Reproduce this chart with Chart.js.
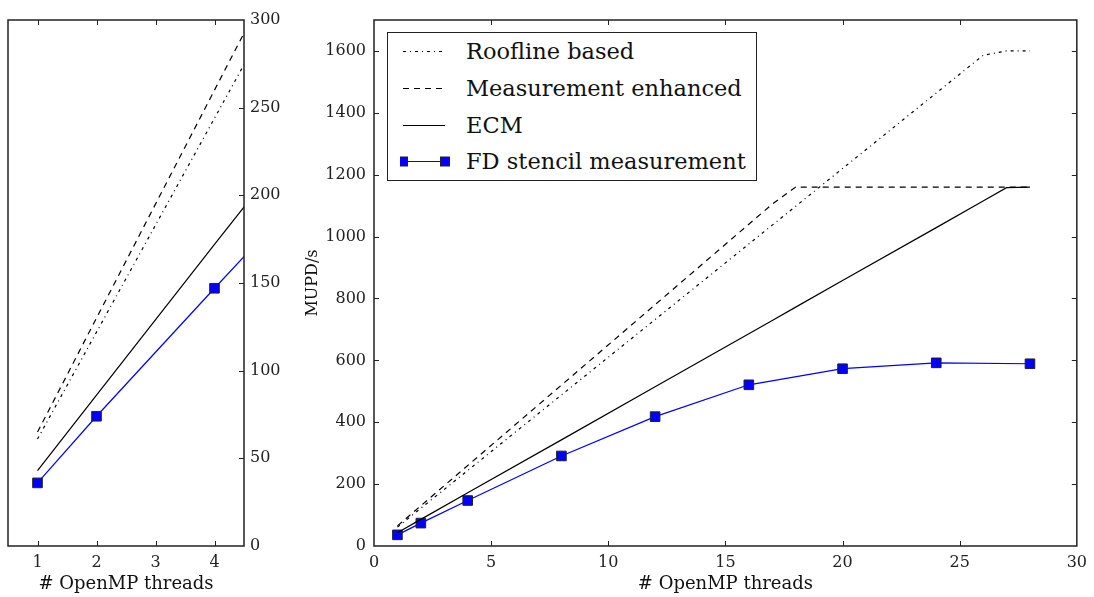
<!DOCTYPE html>
<html>
<head>
<meta charset="utf-8">
<script src="https://cdn.jsdelivr.net/npm/chart.js@4.4.1/dist/chart.umd.min.js"></script>
<style>
  html, body { margin: 0; padding: 0; background: #fff; }
  #wrap { position: relative; width: 1094px; height: 597px; overflow: hidden; }
  canvas { position: absolute; top: 0; }
  #legend { position: absolute; left: 387px; top: 32px; width: 368px; height: 147px;
    border: 1.5px solid #222; background: #fff; font-family: 'DejaVu Serif', serif; font-size: 22.5px; color: #111; }
  .row { position: absolute; left: 0; height: 30px; width: 100%; }
  .row svg { position: absolute; left: 12px; top: 0; }
  .row span { position: absolute; left: 78px; top: 0; line-height: 30px; white-space: nowrap; }
</style>
</head>
<body>
<div id="wrap">
  <canvas id="leftChart" width="300" height="597" style="left:0px"></canvas>
  <canvas id="rightChart" width="804" height="597" style="left:290px"></canvas>
  <div id="legend"></div>
</div>
<script>
// ---- data ----
const threads = [1, 2, 4, 8, 12, 16, 20, 24, 28];
const fdStencil = [36, 74, 147, 291, 418, 521, 573, 592, 589];
const modelThreads = [1, 2, 4, 8, 12, 16, 17, 18, 20, 24, 26, 27, 28];
const roofline = [61, 122, 244, 488, 732, 976, 1037, 1098, 1220, 1464, 1586, 1600, 1600];
const measEnhanced = [65, 130, 260, 520, 780, 1040, 1105, 1160, 1160, 1160, 1160, 1160, 1160];
const ecm = [43, 86, 172, 343, 515, 686, 729, 772, 858, 1029, 1115, 1158, 1160];
const seriesLabels = ['Roofline based', 'Measurement enhanced', 'ECM', 'FD stencil measurement'];
const leftXTicks = [1, 2, 3, 4];
const leftYTicks = [0, 50, 100, 150, 200, 250, 300];
const rightXTicks = [0, 5, 10, 15, 20, 25, 30];
const rightYTicks = [0, 200, 400, 600, 800, 1000, 1200, 1400, 1600];
const xTitle = '# OpenMP threads';
const yTitle = 'MUPD/s';

const pairs = (xs, ys) => xs.map((x, i) => ({x: x, y: ys[i]}));

function makeDatasets() {
  return [
    { label: seriesLabels[0], data: pairs(modelThreads, roofline), borderColor: '#000', borderWidth: 1.2,
      borderDash: [3, 4, 1, 4], pointRadius: 0, fill: false },
    { label: seriesLabels[1], data: pairs(modelThreads, measEnhanced), borderColor: '#000', borderWidth: 1.2,
      borderDash: [6, 5], pointRadius: 0, fill: false },
    { label: seriesLabels[2], data: pairs(modelThreads, ecm), borderColor: '#000', borderWidth: 1.2,
      pointRadius: 0, fill: false },
    { label: seriesLabels[3], data: pairs(threads, fdStencil), borderColor: '#0000ff', borderWidth: 1.2,
      pointStyle: 'rect', pointRadius: 6.8, pointBackgroundColor: '#0000ff', pointBorderColor: '#222',
      pointBorderWidth: 1, fill: false }
  ];
}

const frame = {
  id: 'frame',
  afterDraw(chart, args, opts) {
    const {ctx, chartArea: a, scales} = chart;
    ctx.save();
    ctx.strokeStyle = '#222';
    ctx.lineWidth = 1;
    const L = 5;
    ctx.beginPath();
    scales.x.ticks.forEach(t => {
      const px = Math.round(scales.x.getPixelForValue(t.value)) + 0.5;
      if (px < a.left + 1 || px > a.right - 1) return;
      ctx.moveTo(px, a.bottom); ctx.lineTo(px, a.bottom - L);
      ctx.moveTo(px, a.top); ctx.lineTo(px, a.top + L);
    });
    scales.y.ticks.forEach(t => {
      const py = Math.round(scales.y.getPixelForValue(t.value)) + 0.5;
      if (py < a.top + 1 || py > a.bottom - 1) return;
      if (opts.leftTicks) { ctx.moveTo(a.left, py); ctx.lineTo(a.left + L, py); }
      if (opts.rightTicks) { ctx.moveTo(a.right, py); ctx.lineTo(a.right - L, py); }
    });
    ctx.stroke();
    ctx.lineWidth = 1.5;
    ctx.strokeRect(a.left, a.top, a.right - a.left, a.bottom - a.top);
    ctx.restore();
  }
};

const tickFont = { family: "'DejaVu Serif', serif", size: 16 };
const titleFont = { family: "'DejaVu Serif', serif", size: 18 };
const plainLabel = v => String(v);

function setTicks(list) {
  return function(scale) { scale.ticks = list.map(v => ({value: v})); };
}

// ---- left (zoomed) chart ----
new Chart(document.getElementById('leftChart'), {
  type: 'line',
  data: { datasets: makeDatasets() },
  options: {
    responsive: false, animation: false,
    layout: { padding: { left: 8, top: 20, right: 0, bottom: 0 } },
    plugins: { legend: { display: false }, tooltip: { enabled: false },
      frame: { leftTicks: false, rightTicks: true } },
    scales: {
      x: { type: 'linear', min: 0.5, max: 4.5,
        afterBuildTicks: setTicks(leftXTicks),
        afterFit: s => { s.height = 51; },
        grid: { display: false, drawTicks: false }, border: { display: false },
        ticks: { font: tickFont, color: '#222', padding: 7, maxRotation: 0, callback: plainLabel },
        title: { display: true, text: xTitle, font: titleFont, color: '#111', padding: { top: 0, bottom: 2 } } },
      y: { type: 'linear', position: 'right', min: 0, max: 300,
        afterBuildTicks: setTicks(leftYTicks),
        afterFit: s => { s.width = 56; },
        grid: { display: false, drawTicks: false }, border: { display: false },
        ticks: { font: tickFont, color: '#222', padding: 6, callback: plainLabel } }
    }
  },
  plugins: [frame]
});

// ---- right (full) chart ----
new Chart(document.getElementById('rightChart'), {
  type: 'line',
  data: { datasets: makeDatasets() },
  options: {
    responsive: false, animation: false,
    layout: { padding: { left: 0, top: 20, right: 17, bottom: 0 } },
    plugins: { legend: { display: false }, tooltip: { enabled: false },
      frame: { leftTicks: true, rightTicks: true } },
    scales: {
      x: { type: 'linear', min: 0, max: 30,
        afterBuildTicks: setTicks(rightXTicks),
        afterFit: s => { s.height = 51; },
        grid: { display: false, drawTicks: false }, border: { display: false },
        ticks: { font: tickFont, color: '#222', padding: 7, maxRotation: 0, callback: plainLabel },
        title: { display: true, text: xTitle, font: titleFont, color: '#111', padding: { top: 0, bottom: 2 } } },
      y: { type: 'linear', position: 'left', min: 0, max: 1700,
        afterBuildTicks: setTicks(rightYTicks),
        afterFit: s => { s.width = 84; },
        grid: { display: false, drawTicks: false }, border: { display: false },
        ticks: { font: tickFont, color: '#222', padding: 8, callback: plainLabel },
        title: { display: true, text: yTitle, font: { family: "'DejaVu Serif', serif", size: 16 }, color: '#111',
          padding: { top: 13, bottom: 0 } } }
    }
  },
  plugins: [frame]
});

// ---- legend (HTML, built from dataset styles) ----
(function buildLegend() {
  const ds = makeDatasets();
  const legend = document.getElementById('legend');
  const rowTops = [3, 40, 77, 113];
  ds.forEach((d, i) => {
    const row = document.createElement('div');
    row.className = 'row';
    row.style.top = rowTops[i] + 'px';
    const dash = d.borderDash ? d.borderDash.join(',') : 'none';
    let svg = '<svg width="52" height="30" xmlns="http://www.w3.org/2000/svg">' +
      '<line x1="3" y1="15.5" x2="45" y2="15.5" stroke="' + d.borderColor + '" stroke-width="' + d.borderWidth + '"' +
      (d.borderDash ? ' stroke-dasharray="' + dash + '"' : '') + '/>';
    if (d.pointRadius) {
      svg += '<rect x="-1.5" y="11" width="9" height="9" fill="' + d.pointBackgroundColor + '" stroke="#222" stroke-width="1"/>' +
             '<rect x="40.5" y="11" width="9" height="9" fill="' + d.pointBackgroundColor + '" stroke="#222" stroke-width="1"/>';
    }
    svg += '</svg>';
    row.innerHTML = svg + '<span>' + d.label + '</span>';
    legend.appendChild(row);
  });
})();
</script>
</body>
</html>
